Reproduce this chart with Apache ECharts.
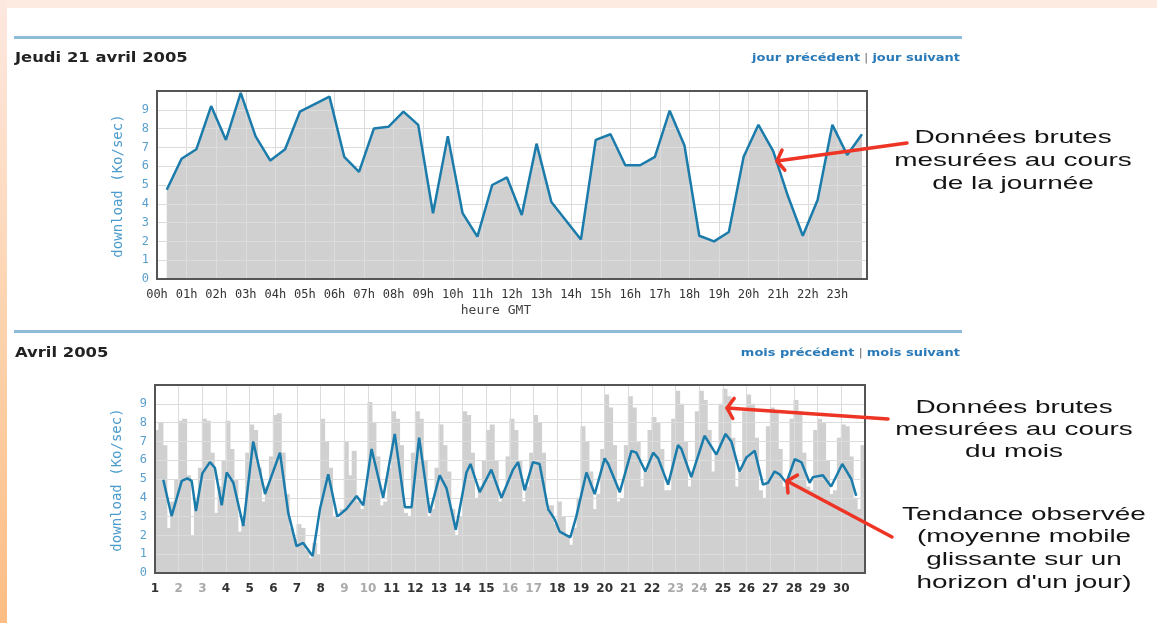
<!DOCTYPE html>
<html><head><meta charset="utf-8">
<script src="https://cdn.jsdelivr.net/npm/echarts@6/dist/echarts.min.js"></script>
<style>html,body{margin:0;padding:0;background:#fff;}#c{width:1157px;height:623px;}</style>
</head><body><div id="c"></div>
<script>
// ---------- DATA ----------
const hourLabels = ['00h','01h','02h','03h','04h','05h','06h','07h','08h','09h','10h','11h',
  '12h','13h','14h','15h','16h','17h','18h','19h','20h','21h','22h','23h'];
const yTickLabels = ['0','1','2','3','4','5','6','7','8','9'];
const dayHours = [0.33,0.83,1.33,1.83,2.33,2.83,3.33,3.83,4.33,4.83,5.33,5.83,6.33,6.83,7.33,7.83,
  8.33,8.83,9.33,9.83,10.33,10.83,11.33,11.83,12.33,12.83,13.33,13.83,14.33,14.83,15.33,15.83,
  16.33,16.83,17.33,17.83,18.33,18.83,19.33,19.83,20.33,20.83,21.33,21.83,22.33,22.83,23.33,23.83];
const dayValues = [4.75,6.4,6.9,9.2,7.4,9.9,7.6,6.3,6.9,8.9,9.3,9.7,6.5,5.7,8.0,8.1,
  8.9,8.2,3.5,7.6,3.5,2.25,5.0,5.4,3.4,7.2,4.1,3.1,2.1,7.4,7.7,6.05,
  6.05,6.5,8.95,7.1,2.3,2.0,2.5,6.5,8.2,6.8,4.4,2.3,4.2,8.2,6.6,7.7];

const monthDays = [1,2,3,4,5,6,7,8,9,10,11,12,13,14,15,16,17,18,19,20,21,22,23,24,25,26,27,28,29,30];
const weekendDays = [2,3,9,10,16,17,23,24];
// raw measurements, 6 per day (4-hour slots)
const rawApril = [
  [7.6,8.0,6.8,2.4,3.8,5.0],[8.1,8.2,5.2,2.0,3.6,5.6],[8.2,8.1,6.4,3.2,4.6,6.0],
  [8.1,6.6,5.0,2.2,2.6,6.4],[7.9,7.6,5.6,3.8,4.6,6.2],[8.4,8.5,6.4,4.2,2.4,1.8],
  [2.6,2.4,1.2,0.8,1.6,1.0],[8.2,7.0,5.6,3.0,2.9,3.4],[7.0,5.2,6.5,3.8,3.4,4.4],
  [9.1,8.0,6.2,3.6,3.8,5.6],[8.6,8.2,6.8,3.2,3.0,6.4],[8.6,8.2,6.0,3.0,3.4,5.6],
  [7.9,6.8,5.4,3.4,2.0,3.0],[8.6,8.4,6.4,4.0,4.6,6.0],[7.6,7.9,6.0,3.8,4.4,6.2],
  [8.2,7.6,6.0,3.8,4.6,6.4],[8.4,8.0,6.4,3.4,3.6,2.6],[3.8,3.0,2.0,1.5,2.4,4.0],
  [7.8,7.0,5.4,3.4,4.2,6.6],[9.5,8.8,6.8,3.8,4.0,6.8],[9.4,8.8,7.0,4.6,5.4,7.6],
  [8.3,8.0,6.6,4.4,4.4,8.2],[9.7,9.0,7.0,4.6,5.4,8.6],[9.7,9.2,7.6,5.4,6.4,9.0],
  [9.8,9.4,7.2,4.6,5.4,8.6],[9.5,9.0,7.2,4.4,4.0,7.8],[8.8,8.6,6.6,4.6,4.8,8.2],
  [9.2,8.6,6.4,4.6,4.4,7.6],[8.2,8.0,6.0,4.2,4.4,7.2],[7.9,7.8,6.2,4.0,3.4,6.8]
];
const trendDays = [1.35,1.70,2.13,2.37,2.55,2.73,3.0,3.32,3.53,3.82,4.03,4.31,4.73,5.15,5.65,6.28,
  6.63,6.98,7.26,7.66,7.97,8.32,8.70,9.09,9.52,9.80,10.15,10.64,11.13,11.56,11.84,12.16,12.61,
  13.03,13.32,13.71,14.16,14.33,14.72,15.21,15.64,16.13,16.34,16.62,16.97,17.25,17.61,17.89,
  18.10,18.55,18.80,19.23,19.58,20.00,20.15,20.64,21.13,21.34,21.72,22.05,22.26,22.68,23.10,
  23.24,23.66,24.22,24.72,25.11,25.35,25.70,25.99,26.34,26.69,26.90,27.18,27.39,27.68,28.03,
  28.31,28.66,28.80,29.22,29.57,30.04,30.42,30.63];
const trendValues = [4.96,3.03,4.9,5.03,4.9,3.3,5.3,5.9,5.6,3.6,5.35,4.8,2.5,7.0,4.2,6.4,
  3.2,1.43,1.6,0.9,3.4,5.25,3.0,3.4,4.1,3.6,6.6,4.0,7.4,3.5,3.5,7.2,3.2,
  5.2,4.5,2.3,5.35,5.8,4.3,5.5,4.0,5.5,5.9,4.4,5.9,5.8,3.4,2.85,
  2.2,1.9,3.0,5.35,4.2,6.1,5.8,4.3,6.5,6.4,5.4,6.4,6.1,4.7,6.8,
  6.6,5.1,7.3,6.3,7.4,7.0,5.4,6.15,6.5,4.7,4.8,5.4,5.25,4.8,6.05,
  5.9,4.8,5.1,5.2,4.6,5.8,5.0,4.1];

// ---------- STYLE ----------
const MONO = '"DejaVu Sans Mono", monospace';
const SANS = '"DejaVu Sans", Verdana, sans-serif';
const ARIAL = '"Liberation Sans", Arial, sans-serif';
const GRID_C = '#dcdcdc', FILL_C = '#d0d0d0', LINE_C = '#1b7cab', RED = '#ee3424';
const G1 = {left:157, top:91, width:710, height:188};
const G2 = {left:155, top:385, width:710, height:188};

const daySeries = dayHours.map((h,i)=>[h, dayValues[i]]);
const rawSeries = [];
rawApril.forEach((vals, di) => vals.forEach((v,k) => rawSeries.push([monthDays[di] + (k+0.5)/vals.length, v])));
const trendSeries = trendDays.map((d,i)=>[d, trendValues[i]]);

function yAxisCfg(gi){
  return {gridIndex:gi, type:'value', min:0, max:10, interval:1, z:3,
    axisLine:{show:false}, axisTick:{show:false},
    splitLine:{show:true, lineStyle:{color:GRID_C, width:1}},
    axisLabel:{formatter:v=>yTickLabels[Math.round(v)]||'', color:'#5a9fcc', fontFamily:MONO, fontSize:12, margin:8}};
}

function arrow(tail, tip, len, ang){
  const a = Math.atan2(tail[1]-tip[1], tail[0]-tip[0]);
  const p1 = [tip[0]+len*Math.cos(a+ang), tip[1]+len*Math.sin(a+ang)];
  const p2 = [tip[0]+len*Math.cos(a-ang), tip[1]+len*Math.sin(a-ang)];
  return [
    {type:'polyline', z:20, shape:{points:[tail, tip]}, style:{stroke:RED, lineWidth:3.5, fill:null, lineCap:'round'}},
    {type:'polyline', z:20, shape:{points:[p1, tip, p2]}, style:{stroke:RED, lineWidth:3.5, fill:null, lineCap:'round', lineJoin:'round'}}
  ];
}
function annot(lines, cx, ys){
  return lines.map((t,i)=>({type:'text', z:20, x:cx, y:ys[i], scaleX:1.47,
    style:{text:t, font:'19px '+ARIAL, fill:'#141414', align:'center', verticalAlign:'middle', textAlign:'center', textVerticalAlign:'middle'}}));
}
function txt(t, x, y, font, fill, align, extra){
  return Object.assign({type:'text', z:20, x:x, y:y,
    style:{text:t, font:font, fill:fill, align:align, verticalAlign:'middle', textAlign:align, textVerticalAlign:'middle'}}, extra||{});
}
function links(a, b, y){
  return {type:'text', z:20, x:960, y:y, scaleX:1.18, style:{
    text:'{l|'+a+'} {s||} {l|'+b+'}', align:'right', verticalAlign:'middle', textAlign:'right', textVerticalAlign:'middle',
    rich:{l:{fill:'#2a7ab8', font:'bold 11px '+SANS, fontFamily:SANS, fontSize:11, fontWeight:'bold'},
          s:{fill:'#777', font:'11px '+SANS, fontFamily:SANS, fontSize:11}}}};
}
function border(g){
  return {type:'rect', z:15, shape:{x:g.left, y:g.top, width:g.width, height:g.height},
    style:{fill:null, stroke:'#555', lineWidth:2}};
}

const graphics = [
  {type:'rect', z:1, shape:{x:0,y:0,width:1157,height:8}, style:{fill:'#fdebe2'}},
  {type:'rect', z:1, shape:{x:0,y:0,width:7,height:623}, style:{fill:{type:'linear',x:0,y:0,x2:0,y2:1,
     colorStops:[{offset:0,color:'#fde8e0'},{offset:0.5,color:'#fdd4b0'},{offset:1,color:'#fdbd84'}]}}},
  {type:'line', z:20, shape:{x1:14,y1:37.5,x2:962,y2:37.5}, style:{stroke:'#8dbbd8', lineWidth:3}},
  {type:'line', z:20, shape:{x1:14,y1:331.5,x2:962,y2:331.5}, style:{stroke:'#8dbbd8', lineWidth:3}},
  txt('Jeudi 21 avril 2005', 15, 58, 'bold 14px '+SANS, '#222', 'left', {scaleX:1.17}),
  txt('Avril 2005', 15, 353, 'bold 14px '+SANS, '#222', 'left', {scaleX:1.17}),
  links('jour précédent','jour suivant', 58),
  links('mois précédent','mois suivant', 353),
  txt('download (Ko/sec)', 118, 186, '14px '+MONO, '#4b9bcc', 'center', {rotation:Math.PI/2}),
  txt('download (Ko/sec)', 117, 480, '14px '+MONO, '#4b9bcc', 'center', {rotation:Math.PI/2}),
  txt('heure GMT', 496, 311, '13px '+MONO, '#444', 'center'),
  border(G1), border(G2)
].concat(
  annot(['Données brutes','mesurées au cours','de la journée'], 1013, [138,161,184]),
  annot(['Données brutes','mesurées au cours','du mois'], 1014, [408,430,452]),
  annot(['Tendance observée','(moyenne mobile','glissante sur un','horizon d\'un jour)'], 1024, [515,537,560,583]),
  arrow([907,143],[777,161],12,1.0),
  arrow([888,419],[727,408],12,1.0),
  arrow([892,537],[787,481],12,1.0)
);

const option = {
  animation:false,
  backgroundColor:'#fff',
  grid:[Object.assign({show:true, backgroundColor:'#fff', borderWidth:0}, G1),
        Object.assign({show:true, backgroundColor:'#fff', borderWidth:0}, G2)],
  xAxis:[
    {gridIndex:0, type:'value', min:0, max:24, interval:1, z:3,
     axisLine:{show:false}, axisTick:{show:false},
     splitLine:{show:true, lineStyle:{color:GRID_C, width:1}},
     axisLabel:{formatter:v=>hourLabels[Math.round(v)]||'', color:'#333', fontFamily:MONO, fontSize:12, margin:10, hideOverlap:false}},
    {gridIndex:1, type:'value', min:1, max:31, interval:1, z:3,
     axisLine:{show:false}, axisTick:{show:false},
     splitLine:{show:true, lineStyle:{color:GRID_C, width:1}},
     axisLabel:{formatter:v=>{const d=Math.round(v); return monthDays.indexOf(d)>=0?String(d):'';},
       color:v=>weekendDays.indexOf(Math.round(v))>=0?'#aaa':'#333',
       fontFamily:SANS, fontSize:12, fontWeight:'bold', margin:10, hideOverlap:false}}
  ],
  yAxis:[yAxisCfg(0), yAxisCfg(1)],
  series:[
    {type:'line', xAxisIndex:0, yAxisIndex:0, data:daySeries, showSymbol:false, silent:true, z:1,
     lineStyle:{width:0, opacity:0}, areaStyle:{color:FILL_C, opacity:1}},
    {type:'line', xAxisIndex:0, yAxisIndex:0, data:daySeries, showSymbol:false, z:5,
     lineStyle:{color:LINE_C, width:2.5}},
    {type:'bar', xAxisIndex:1, yAxisIndex:1, data:rawSeries, barWidth:5, barGap:'-100%', z:1, silent:true,
     itemStyle:{color:FILL_C}},
    {type:'line', xAxisIndex:1, yAxisIndex:1, data:trendSeries, showSymbol:false, z:5,
     lineStyle:{color:LINE_C, width:2.5}}
  ],
  graphic:graphics
};
const chart = echarts.init(document.getElementById('c'), null, {renderer:'canvas'});
chart.setOption(option);
</script></body></html>
